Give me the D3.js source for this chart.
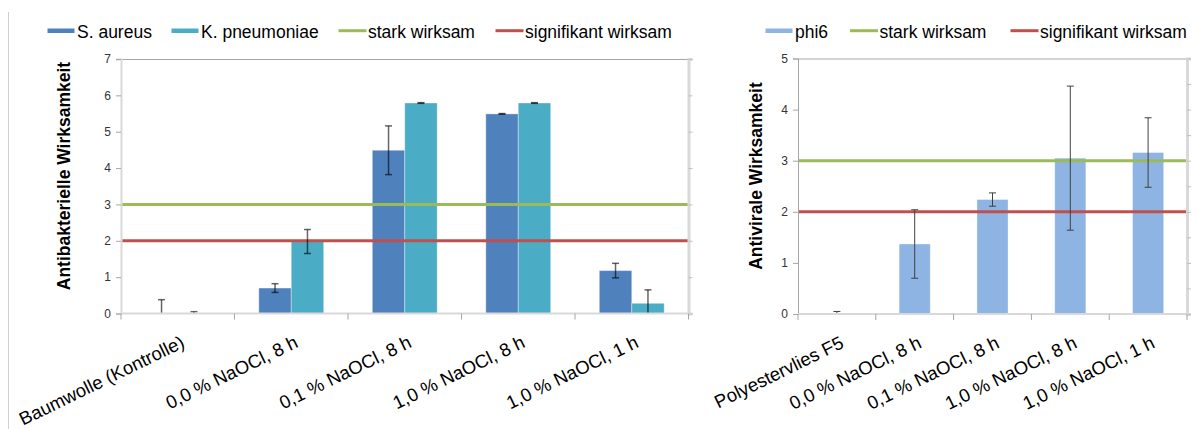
<!DOCTYPE html>
<html>
<head>
<meta charset="utf-8">
<script src="https://cdn.jsdelivr.net/npm/d3@7"></script>
<style>
  html, body { margin: 0; padding: 0; background: #fff; }
  svg { display: block; font-family: "Liberation Sans", Arial, sans-serif; }
</style>
</head>
<body>
<svg id="chart" width="1198" height="429"></svg>
<script>
// ---------- data ----------
const leftCategories = ["Baumwolle (Kontrolle)", "0,0 % NaOCl, 8 h", "0,1 % NaOCl, 8 h", "1,0 % NaOCl, 8 h", "1,0 % NaOCl, 1 h"];
const leftSeriesNames = ["S. aureus", "K. pneumoniae"];
const saureus = [0, 0.70, 4.49, 5.49, 1.18];
const saureusErr = [0.38, 0.12, 0.67, 0.01, 0.20];
const kpneumoniae = [0, 1.98, 5.79, 5.79, 0.28];
const kpneumoniaeErr = [0.05, 0.33, 0.01, 0.01, 0.37];
const leftTicks = [0, 1, 2, 3, 4, 5, 6, 7];

const rightCategories = ["Polyestervlies F5", "0,0 % NaOCl, 8 h", "0,1 % NaOCl, 8 h", "1,0 % NaOCl, 8 h", "1,0 % NaOCl, 1 h"];
const rightSeriesNames = ["phi6"];
const phi6 = [0, 1.37, 2.24, 3.05, 3.16];
const phi6Err = [0.05, 0.67, 0.13, 1.41, 0.68];
const rightTicks = [0, 1, 2, 3, 4, 5];
const rightMinorTicks = [0, 0.5, 1, 1.5, 2, 2.5, 3, 3.5, 4, 4.5, 5];

const thresholdNames = ["stark wirksam", "signifikant wirksam"];
const thresholdValues = [3, 2];

// ---------- styles ----------
const barColors = {"S. aureus": "#4F81BD", "K. pneumoniae": "#4BACC6", "phi6": "#8DB4E2"};
const lineColors = ["#9BBB59", "#C0504D"];
const svg = d3.select("#chart");
const angle = -26;

function drawChart(cfg) {
  const g = svg.append("g");
  const x = d3.scaleBand().domain(cfg.categories).range([cfg.left, cfg.right]).padding(0);
  const xs = d3.scaleBand().domain(cfg.series.map(s => s.name)).range([0, x.bandwidth()]).paddingInner(0).paddingOuter(0.75);
  const y = d3.scaleLinear().domain([0, cfg.max]).range([cfg.bottom, cfg.top]);

  // top border
  g.append("line").attr("x1", cfg.left).attr("x2", cfg.right).attr("y1", cfg.top + 0.5).attr("y2", cfg.top + 0.5)
    .attr("stroke", "#A6A6A6").attr("stroke-width", 1);

  // bars
  cfg.series.forEach(s => {
    g.append("g").selectAll("rect").data(cfg.categories.map((c, i) => ({c, v: s.values[i]})))
      .join("rect")
      .attr("x", d => x(d.c) + xs(s.name))
      .attr("width", xs.bandwidth())
      .attr("y", d => y(d.v))
      .attr("height", d => y(0) - y(d.v))
      .attr("fill", barColors[s.name])
      .attr("stroke", "rgba(255,255,255,0.35)")
      .attr("stroke-width", 1);
  });

  // threshold lines
  thresholdValues.forEach((v, i) => {
    g.append("line").attr("x1", cfg.left).attr("x2", cfg.right).attr("y1", y(v)).attr("y2", y(v))
      .attr("stroke", lineColors[i]).attr("stroke-width", 3);
  });

  // error bars
  cfg.series.forEach(s => {
    const eg = g.append("g").attr("stroke", cfg.errColor).attr("stroke-width", cfg.errWidth).attr("fill", "none");
    cfg.categories.forEach((c, i) => {
      const cx = x(c) + xs(s.name) + xs.bandwidth() / 2;
      const hi = s.values[i] + s.err[i];
      const loRaw = s.values[i] - s.err[i];
      const lo = Math.max(0, loRaw);
      eg.append("line").attr("x1", cx).attr("x2", cx).attr("y1", y(lo)).attr("y2", y(hi));
      eg.append("line").attr("x1", cx - 3.5).attr("x2", cx + 3.5).attr("y1", y(hi)).attr("y2", y(hi));
      if (loRaw >= 0) eg.append("line").attr("x1", cx - 3.5).attr("x2", cx + 3.5).attr("y1", y(lo)).attr("y2", y(lo));
    });
  });

  // left y axis
  const ya = g.append("g").attr("transform", `translate(${cfg.left},0)`)
    .call(d3.axisLeft(y).tickValues(cfg.ticks).tickSize(5).tickPadding(5).tickFormat(d3.format("d")));
  ya.select(".domain").attr("stroke", cfg.leftAxisColor).attr("stroke-width", cfg.leftAxisWidth);
  ya.selectAll(".tick line").attr("stroke", "#A6A6A6");
  ya.selectAll(".tick text").attr("font-size", 12).attr("fill", "#333").attr("font-family", "Liberation Sans, Arial, sans-serif");

  // secondary right axis (unlabelled)
  const ra = g.append("g").attr("transform", `translate(${cfg.right},0)`)
    .call(d3.axisRight(y).tickValues(cfg.rightTicks).tickSize(4).tickFormat(""));
  ra.select(".domain").attr("stroke", "#D9D9D9").attr("stroke-width", 3);
  ra.selectAll(".tick line").attr("stroke", "#BFBFBF");

  // x axis baseline + boundary ticks
  g.append("line").attr("x1", cfg.left).attr("x2", cfg.right + 2).attr("y1", y(0)).attr("y2", y(0))
    .attr("stroke", "#D9D9D9").attr("stroke-width", 2);
  const bounds = cfg.categories.map(c => x(c)).concat([cfg.right]);
  g.append("g").selectAll("line").data(bounds).join("line")
    .attr("x1", d => d).attr("x2", d => d).attr("y1", y(0)).attr("y2", y(0) + 6)
    .attr("stroke", "#A6A6A6");

  // x labels
  g.append("g").selectAll("text").data(cfg.categories).join("text")
    .attr("transform", d => `translate(${x(d) + x.bandwidth() / 2 + 8},${y(0) + 33}) rotate(${angle})`)
    .attr("text-anchor", "end")
    .attr("font-size", 18.5)
    .attr("fill", "#000")
    .text(d => d);

  // y title
  g.append("text")
    .attr("transform", `translate(${cfg.titleX},${cfg.titleY}) rotate(-90)`)
    .attr("text-anchor", "middle")
    .attr("font-size", 17.5).attr("font-weight", "bold").attr("fill", "#000")
    .text(cfg.title);

  // legend
  const lg = g.append("g");
  cfg.legend.forEach(item => {
    if (item.type === "bar") {
      lg.append("rect").attr("x", item.x).attr("y", 28.5).attr("width", 27).attr("height", 4.5).attr("fill", item.color);
    } else {
      lg.append("line").attr("x1", item.x).attr("x2", item.x + 28).attr("y1", 30.7).attr("y2", 30.7)
        .attr("stroke", item.color).attr("stroke-width", 3);
    }
    lg.append("text").attr("x", item.x + 29.5).attr("y", 38).attr("font-size", 17.5).attr("fill", "#000").text(item.label);
  });
}

// outer frame line at left
svg.append("line").attr("x1", 8.5).attr("x2", 8.5).attr("y1", 12).attr("y2", 429).attr("stroke", "#D0D0D0").attr("stroke-width", 1);

drawChart({
  categories: leftCategories,
  series: [
    {name: leftSeriesNames[0], values: saureus, err: saureusErr},
    {name: leftSeriesNames[1], values: kpneumoniae, err: kpneumoniaeErr}
  ],
  left: 121, right: 688.5, top: 59, bottom: 313.5, max: 7,
  ticks: leftTicks, rightTicks: leftTicks,
  errColor: "rgba(0,0,0,0.6)", errWidth: 1.5,
  leftAxisColor: "#D9D9D9", leftAxisWidth: 2,
  title: "Antibakterielle Wirksamkeit", titleX: 70, titleY: 176,
  legend: [
    {type: "bar", x: 47.5, color: barColors[leftSeriesNames[0]], label: leftSeriesNames[0]},
    {type: "bar", x: 171.5, color: barColors[leftSeriesNames[1]], label: leftSeriesNames[1]},
    {type: "line", x: 338.5, color: lineColors[0], label: thresholdNames[0]},
    {type: "line", x: 495.5, color: lineColors[1], label: thresholdNames[1]}
  ]
});

drawChart({
  categories: rightCategories,
  series: [{name: rightSeriesNames[0], values: phi6, err: phi6Err}],
  left: 798, right: 1187, top: 58.5, bottom: 314, max: 5,
  ticks: rightTicks, rightTicks: rightMinorTicks,
  errColor: "#404040", errWidth: 1,
  leftAxisColor: "#A6A6A6", leftAxisWidth: 1,
  title: "Antivirale Wirksamkeit", titleX: 762, titleY: 176,
  legend: [
    {type: "bar", x: 765.5, color: barColors[rightSeriesNames[0]], label: rightSeriesNames[0]},
    {type: "line", x: 850, color: lineColors[0], label: thresholdNames[0]},
    {type: "line", x: 1010.5, color: lineColors[1], label: thresholdNames[1]}
  ]
});
</script>
</body>
</html>
